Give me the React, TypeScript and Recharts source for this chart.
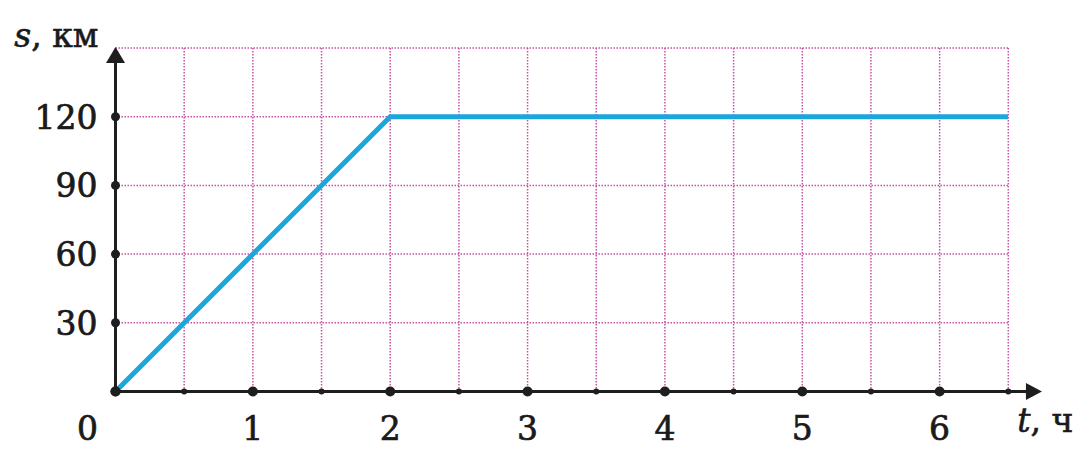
import React from 'react';
import { LineChart, Line, XAxis, YAxis, CartesianGrid, ReferenceLine, ReferenceDot } from 'recharts';

const timeHours = [0, 2, 6.5];
const distanceKm = [0, 120, 120];
const xTicks = [0, 0.5, 1, 1.5, 2, 2.5, 3, 3.5, 4, 4.5, 5, 5.5, 6, 6.5];
const yTicks = [0, 30, 60, 90, 120, 150];
const yLabelled = [30, 60, 90, 120];
const xAxisEnd = 6.745;
const yAxisEnd = 150;

const data = timeHours.map((t, i) => ({ t, s: distanceKm[i] }));

const FONT = '"DejaVu Serif", serif';
const AXIS = '#1e1e1e';
const TEXT = '#1a1a1a';

const renderXTick = (props: any) => {
  const { x, y, payload } = props;
  const v = payload.value;
  const isInt = Number.isInteger(v);
  return (
    <g>
      <circle cx={x} cy={y} r={isInt ? 5 : 3} fill={AXIS} />
      {isInt && (
        <text
          x={v === 0 ? x - 28 : x}
          y={y + 48.5}
          textAnchor="middle"
          fontFamily={FONT}
          fontSize={33}
          fill={TEXT}
          stroke={TEXT}
          strokeWidth={0.7}
        >
          {v}
        </text>
      )}
    </g>
  );
};

const renderYTick = (props: any) => {
  const { x, y, payload } = props;
  const v = payload.value;
  if (!yLabelled.includes(v)) return <g />;
  return (
    <g>
      <circle cx={x} cy={y} r={4.5} fill={AXIS} />
      <text
        x={x - 18}
        y={y + 12}
        textAnchor="end"
        fontFamily={FONT}
        fontSize={33}
        fill={TEXT}
        stroke={TEXT}
        strokeWidth={0.7}
      >
        {v}
      </text>
    </g>
  );
};

const renderYLabel = (props: any) => {
  const vb = props.viewBox || {};
  const ax = vb.x + vb.width;
  return (
    <text
      x={ax - 17}
      y={vb.y - 1}
      textAnchor="end"
      fontFamily={FONT}
      fontSize={33}
      fill={TEXT}
      stroke={TEXT}
      strokeWidth={0.6}
    >
      <tspan fontStyle="italic">s</tspan>
      <tspan>, км</tspan>
    </text>
  );
};

const renderXLabel = (props: any) => {
  const vb = props.viewBox || {};
  return (
    <text
      x={vb.x + vb.width + 9}
      y={vb.y + 40}
      textAnchor="start"
      fontFamily={FONT}
      fontSize={33}
      fill={TEXT}
      stroke={TEXT}
      strokeWidth={0.6}
    >
      <tspan fontStyle="italic">t</tspan>
      <tspan>, ч</tspan>
    </text>
  );
};

export default function App() {
  return (
    <div style={{ position: 'absolute', left: 0, top: 0, width: 1084, height: 460, background: '#fff' }}>
      <LineChart
        width={1084}
        height={460}
        data={data}
        margin={{ top: 48, right: 75.7, bottom: 38.5, left: 55.5 }}
      >
        <CartesianGrid
          stroke="#c653a6"
          strokeWidth={1.5}
          strokeDasharray="1.5 1.5"
        />
        <XAxis
          dataKey="t"
          type="number"
          domain={[0, 6.5]}
          ticks={xTicks}
          interval={0}
          height={30}
          tickSize={0}
          tickMargin={0}
          axisLine={false}
          tickLine={false}
          tick={renderXTick}
          label={{ content: renderXLabel }}
          allowDataOverflow
        />
        <YAxis
          type="number"
          domain={[0, 150]}
          ticks={yTicks}
          interval={0}
          width={60}
          tickSize={0}
          tickMargin={0}
          axisLine={false}
          tickLine={false}
          tick={renderYTick}
          label={{ content: renderYLabel }}
          allowDataOverflow
        />
        <Line
          type="linear"
          dataKey="s"
          stroke="#1da6dc"
          strokeWidth={5}
          dot={false}
          isAnimationActive={false}
        />
        <ReferenceLine
          segment={[{ x: 0, y: 0 }, { x: xAxisEnd - 0.05, y: 0 }]}
          stroke={AXIS}
          strokeWidth={3}
          ifOverflow="visible"
        />
        <ReferenceLine
          segment={[{ x: 0, y: 0 }, { x: 0, y: yAxisEnd - 3 }]}
          stroke={AXIS}
          strokeWidth={3}
          ifOverflow="visible"
        />
        <ReferenceDot
          x={xAxisEnd}
          y={0}
          ifOverflow="visible"
          shape={(p: any) => (
            <polygon points={`${p.cx},${p.cy} ${p.cx - 16},${p.cy - 8.5} ${p.cx - 16},${p.cy + 8.5}`} fill={AXIS} />
          )}
        />
        <ReferenceDot
          x={0}
          y={yAxisEnd}
          ifOverflow="visible"
          shape={(p: any) => (
            <polygon points={`${p.cx},${p.cy - 1} ${p.cx - 9.5},${p.cy + 15} ${p.cx + 9.5},${p.cy + 15}`} fill={AXIS} />
          )}
        />
        <ReferenceDot x={0} y={0} r={5} fill={AXIS} stroke="none" ifOverflow="visible" />
      </LineChart>
    </div>
  );
}
